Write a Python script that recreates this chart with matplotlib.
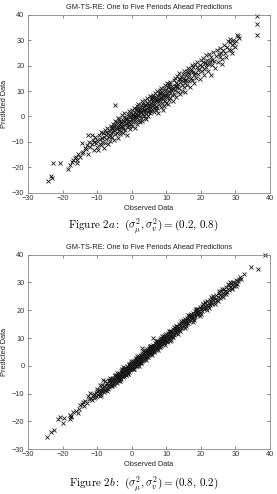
import numpy as np
import matplotlib
matplotlib.use('Agg')
import matplotlib.pyplot as plt

plt.rcParams['font.family'] = ['Liberation Sans', 'DejaVu Sans']
plt.rcParams['mathtext.fontset'] = 'cm'

# Figure 2a: (0.2, 0.8) - observed vs predicted
obs_a = [-24.1, -23.4, -23.0, -22.7, -20.6, -18.3, -17.9, -17.4, -17.0, -16.5, -16.1, -15.9, -15.8, -15.5, -15.0,
         -14.5, -14.5, -14.0, -13.6, -13.2, -12.9, -12.6, -12.6, -12.3, -12.0, -11.6, -11.5, -11.2, -11.0,
         -10.8, -10.5, -10.2, -10.0, -9.9, -9.7, -9.5, -9.3, -9.2, -9.0, -8.8, -8.6, -8.5, -8.3, -8.1, -8.0,
         -7.8, -7.7, -7.5, -7.3, -7.2, -7.0, -6.9, -6.7, -6.5, -6.4, -6.2, -6.0, -6.0,
         -5.8, -5.7, -5.5, -5.4, -5.3, -5.2, -5.0, -4.9, -4.8, -4.8, -4.6, -4.5, -4.4, -4.2, -4.1, -4.0,
         -3.9, -3.8, -3.6, -3.5, -3.4, -3.3, -3.1, -3.0, -2.9, -2.8, -2.6, -2.5, -2.4, -2.3, -2.1, -2.0,
         -1.9, -1.8, -1.6, -1.5, -1.4, -1.3, -1.1, -1.0, -0.9, -0.8, -0.6, -0.5, -0.4, -0.3, -0.1, 0.0,
         -3.7, -2.2, -1.2, -0.2, -4.3, -5.1,
         0.1, 0.2, 0.3, 0.4, 0.5, 0.6, 0.7, 0.8, 0.9, 1.0, 1.1, 1.2, 1.3, 1.4, 1.5, 1.6, 1.7, 1.8, 1.9, 2.0,
         2.1, 2.2, 2.3, 2.4, 2.5, 2.6, 2.7, 2.8, 2.9, 3.0, 3.1, 3.2, 3.3, 3.4, 3.5, 3.6, 3.7, 3.8, 3.9, 4.0,
         4.1, 4.2, 4.3, 4.4, 4.5, 4.6, 4.7, 4.8, 4.9, 5.0, 5.1, 5.2, 5.3, 5.4, 5.5, 5.6, 5.7, 5.8, 5.9, 6.0,
         6.1, 6.2, 6.3, 6.4, 6.5, 6.6, 6.7, 6.8, 6.9, 7.0, 7.1, 7.2, 7.3, 7.4, 7.5, 7.6, 7.7, 7.8, 7.9, 8.0,
         8.1, 8.2, 8.3, 8.4, 8.5, 8.6, 8.7, 8.8, 8.9, 9.0, 9.1, 9.2, 9.3, 9.4, 9.5, 9.6, 9.7, 9.8, 9.9, 10.0,
         10.1, 10.2, 10.3, 10.4, 10.5, 10.6, 10.7, 10.8, 10.9, 11.0, 11.1, 11.2, 11.3, 11.5, 11.7, 11.9,
         12.0, 12.1, 12.3, 12.4, 12.5, 12.6, 12.8, 12.9, 13.0, 13.2, 13.3, 13.4, 13.6, 13.7, 13.8, 14.0,
         14.1, 14.3, 14.4, 14.5, 14.7, 14.8, 15.0, 15.1, 15.2, 15.4, 15.5, 15.7, 15.8, 16.0, 16.1, 16.3,
         16.4, 16.6, 16.7, 16.9, 17.0, 17.2, 17.3, 17.5, 17.6, 17.8, 17.9, 18.0,
         18.2, 18.4, 18.6, 18.8, 19.0, 19.2, 19.4, 19.6, 19.8, 20.0, 20.2, 20.4, 20.6, 20.8, 21.0, 21.2,
         21.4, 21.6, 21.8, 22.0, 22.2, 22.4, 22.6, 22.8, 23.0, 23.2, 23.5, 23.8, 24.0, 24.3, 24.6, 24.9,
         25.2, 25.5,
         25.6, 25.9, 26.1, 26.4, 26.7, 27.0, 27.2, 27.5, 27.8, 28.0, 28.3, 28.4, 28.6, 28.9, 29.2, 29.5,
         29.8, 30.1, 30.3, 30.6, 31.0, 26.0, 29.0,
         36.2, 36.2, 36.2,
         -3.2, -1.7, 0.35, 1.55, 2.65, 3.75, 4.85, 5.95, 7.05, 8.15, 9.25, 10.35, 11.45, 12.7, 13.9, 15.3,
         16.2, 17.1, 19.1, 20.5, 21.7, 23.3, -7.4, -5.6, -2.7, -0.7, 1.05, 2.35, 3.45, 6.35, 8.45, 10.75]
pred_a = [-25.4, -23.5, -24.3, -18.5, -18.4, -20.7, -19.2, -17.9, -17.0, -16.2, -15.9, -17.2, -18.3, -14.8, -15.9,
          -10.6, -14.2, -13.9, -12.5, -13.0, -11.4, -14.6, -7.4, -10.2, -12.2, -7.4, -11.0, -9.1, -13.1,
          -10.0, -8.2, -10.6, -12.0, -9.3, -13.3, -7.5, -10.8, -9.0, -6.1, -11.4, -8.4, -9.9, -6.7, -12.3, -8.0,
          -5.5, -10.3, -7.2, -9.0, -4.4, -6.6, -11.0, -8.1, -5.2, -7.6, -9.6, -3.8, -6.4,
          -5.1, -8.2, -2.9, -6.0, -4.1, -9.3, -5.5, -1.6, 4.7, -7.0, -3.3, -4.6, -6.4, -2.2, -8.5, -4.0,
          -0.8, -5.4, -3.0, -7.1, -1.9, -4.3, -5.9, -2.6, 0.4, -3.7, -6.5, -1.4, -4.8, -2.0, 1.2, -3.2,
          -5.3, -0.6, -2.7, -7.2, -1.1, -4.0, 0.9, -2.1, -3.6, 2.0, -0.3, -5.1, -1.6, 1.4, -2.8, 0.2,
          -1.2, -0.1, -3.1, -0.9, -5.0, -3.3,
          -3.9, 2.6, -1.0, 1.1, -2.3, 3.4, 0.1, -4.4, 1.8, -0.7, 2.9, -1.9, 0.8, 4.1, -0.2, -3.0, 2.2, 0.5, 5.0, -1.3,
          3.1, 1.4, -2.2, 2.6, 0.2, 4.4, -0.8, 1.9, 6.0, 3.3, -1.7, 1.0, 4.8, 2.2, 0.1, 3.8, -0.5, 6.5, 2.7, 1.2,
          4.6, -1.0, 3.1, 7.1, 5.4, 1.8, 3.9, 0.3, 6.2, 2.6, 4.9, 8.0, 1.4, 3.6, 6.7, 5.1, 2.0, 4.3, 7.5, 3.0,
          5.8, 8.6, 1.9, 4.4, 7.0, 3.2, 9.4, 5.5, 2.6, 7.8, 4.1, 6.3, 10.0, 3.3, 8.2, 5.9, 1.4, 7.0, 9.1, 4.8,
          10.6, 6.4, 8.8, 3.6, 7.7, 11.3, 5.4, 9.5, 6.8, 2.5, 8.3, 11.0, 4.3, 7.4, 9.9, 6.0, 12.2, 8.5, 5.1, 10.4,
          7.6, 13.0, 9.1, 4.9, 11.6, 8.1, 10.0, 6.3, 12.7, 9.4, 7.2, 13.6, 10.8, 8.4, 11.9, 5.9,
          10.9, 14.3, 8.9, 12.0, 15.1, 10.3, 7.5, 13.2, 11.4, 16.0, 9.6, 12.8, 14.6, 11.0, 17.0, 13.5,
          8.7, 15.6, 12.3, 10.2, 16.8, 14.1, 11.6, 18.0, 15.0, 13.0, 9.5, 16.4, 14.2, 17.8, 12.5, 15.5,
          19.1, 13.8, 16.9, 11.7, 18.5, 15.1, 20.2, 14.4, 17.4, 19.5, 13.0, 16.3,
          20.6, 17.2, 15.0, 19.4, 21.5, 16.8, 18.6, 14.7, 20.4, 22.3, 17.9, 19.8, 23.0, 18.5, 16.2, 21.1,
          24.0, 19.3, 22.2, 17.8, 20.7, 24.5, 21.8, 16.4, 23.4, 20.2, 25.3, 22.0, 19.0, 23.9, 26.2, 21.6,
          24.6, 23.5,
          27.0, 25.1, 22.7, 26.1, 28.3, 25.0, 23.4, 27.2, 29.6, 26.0, 30.5, 29.4, 26.1, 28.0, 30.0, 29.0,
          27.4, 29.5, 32.0, 31.5, 31.0, 20.5, 24.8,
          39.7, 36.3, 32.2,
          -2.5, -1.0, 0.6, 2.9, 1.9, 4.6, 4.2, 6.9, 6.3, 9.3, 8.4, 11.4, 10.6, 11.8, 14.9, 14.2,
          17.4, 17.9, 18.1, 21.3, 20.6, 22.1, -6.0, -4.6, -4.0, 0.4, 0.0, 3.4, 2.6, 7.5, 7.1, 11.9]

# Figure 2b: (0.8, 0.2)
obs_b = [-24.6, -23.4, -22.4, -21.2, -20.6, -19.8, -19.5, -17.9, -17.7, -17.8, -17.6, -16.9, -16.1, -15.6,
         -15.3, -14.9, -14.5, -14.1, -13.8, -13.4, -13.0, -12.6, -12.4, -12.1, -11.8, -11.5, -11.2, -11.0,
         -10.8, -10.6, -10.4, -10.2, -10.0, -9.8, -9.6, -9.5, -9.3, -9.2, -9.0, -8.8, -8.7, -8.5, -8.3, -8.2,
         -8.0, -7.9, -7.75, -7.6, -7.4, -7.3, -7.1, -7.0, -6.8, -6.7, -6.5, -6.4, -6.2, -6.1, -5.9, -5.8,
         -5.6, -5.5, -5.3, -5.2, -5.0,
         -4.9, -4.8, -4.7, -4.6, -4.5, -4.4, -4.3, -4.2, -4.1, -4.0, -3.9, -3.8, -3.7, -3.6, -3.5, -3.4,
         -3.3, -3.2, -3.1, -3.0, -2.9, -2.8, -2.7, -2.6, -2.5, -2.4, -2.3, -2.2, -2.1, -2.0, -1.9, -1.8,
         -1.7, -1.6, -1.5, -1.4, -1.3, -1.2, -1.1, -1.0, -0.9, -0.8, -0.7, -0.6, -0.5, -0.4, -0.3, -0.2,
         -0.1, 0.0, 0.1, 0.2, 0.3, 0.4, 0.5, 0.6, 0.7, 0.8, 0.9, 1.0, -3.75, -2.65, -1.55, -0.45, 0.55,
         1.1, 1.2, 1.3, 1.4, 1.5, 1.6, 1.7, 1.8, 1.9, 2.0, 2.1, 2.2, 2.3, 2.4, 2.5, 2.6, 2.7, 2.8, 2.9, 3.0,
         3.1, 3.2, 3.3, 3.4, 3.5, 3.6, 3.7, 3.8, 3.9, 4.0, 4.1, 4.2, 4.3, 4.4, 4.5, 4.6, 4.7, 4.8, 4.9, 5.0,
         5.1, 5.2, 5.3, 5.4, 5.5, 5.6, 5.7, 5.8, 5.9, 6.0, 6.1, 6.2, 6.3, 6.4, 6.5, 6.6, 6.7, 6.8, 6.9, 7.0,
         1.25, 2.45, 3.55, 4.65, 5.75, 2.9, 6.2, 11.0,
         7.1, 7.2, 7.3, 7.4, 7.5, 7.6, 7.7, 7.8, 7.9, 8.0, 8.1, 8.2, 8.3, 8.4, 8.5, 8.6, 8.7, 8.8, 8.9, 9.0,
         9.1, 9.2, 9.3, 9.4, 9.5, 9.6, 9.7, 9.8, 9.9, 10.0, 10.2, 10.3, 10.4, 10.5, 10.6, 10.8, 10.9, 11.1,
         11.2, 11.3, 11.5, 11.6, 11.7, 11.9, 12.0, 12.1, 12.3, 12.4, 12.5, 12.7, 12.8, 12.9, 13.0,
         13.2, 13.3, 13.5, 13.6, 13.8, 13.9, 14.1, 14.2, 14.4, 14.5, 14.7, 14.8, 15.0, 15.1, 15.3, 15.4,
         15.6, 15.7, 15.9, 16.0, 16.2, 16.3, 16.5, 16.6, 16.8, 16.9, 17.1, 17.2, 17.4, 17.5, 17.7, 17.8,
         18.0, 18.1, 18.3, 18.4, 18.6, 18.7, 18.9, 19.0, 19.2, 19.3, 19.5, 19.7, 19.8, 20.0,
         20.2, 20.3, 20.5, 20.7, 20.9, 21.1, 21.3, 21.5, 21.7, 21.9, 22.1, 22.3, 22.5, 22.7, 22.9, 23.1,
         23.3, 23.5, 23.8, 24.0, 24.2, 24.5, 24.7, 24.9, 25.2, 25.4, 25.6, 25.9, 26.1, 26.3, 26.6, 26.8, 27.0,
         27.3, 27.5, 27.7, 28.0, 28.2, 28.4, 28.7, 28.9, 29.1, 29.3, 29.6, 29.8, 30.1, 30.4, 30.7, 31.0,
         31.3, 31.7, 32.4, 34.5, 36.6, 38.6,
         -8.6, -7.2, -6.3, -5.1, -4.4, -3.3, -2.4, -1.1, -0.3, 0.7, 1.6, 2.2, 3.2, 4.2, 5.2, 6.0, 6.9, 7.7,
         8.7, 9.6, 10.7, 11.4, 12.2, 13.4, 14.3, 15.5, 16.4, 17.6, 18.5, 19.6, 20.6, 21.8, 22.8, 24.1, 25.3,
         26.5, 27.8, 29.0,
         -9.9, -8.9, -6.6, -5.7, -4.8, -3.6, -2.7, -1.8, -0.7, 0.3, 1.2, 2.6, 3.7, 4.6, 5.5, 6.5, 7.4, 8.3,
         9.2, 10.1, 11.0, 12.0, 12.8, 13.9, 14.9, 15.8, 16.9, 17.9, 19.0, 20.1, 21.2, 22.4, 23.6, 24.8, 26.0,
         27.2, 28.5, 30.2]
pred_b = [-25.6, -23.7, -23.1, -19.2, -18.5, -20.6, -18.6, -19.1, -18.5, -17.6, -18.0, -16.5, -16.3, -16.9,
          -15.4, -14.2, -13.6, -13.0, -14.5, -12.6, -13.3, -10.8, -12.0, -9.9, -11.4, -12.3, -10.5, -11.6,
          -10.2, -11.3, -9.6, -10.8, -9.2, -10.5, -8.7, -9.9, -10.7, -6.9, -8.6, -9.6, -8.0, -9.2, -5.0, -8.4,
          -9.5, -7.3, -5.3, -8.6, -6.8, -7.9, -6.2, -8.3, -7.0, -5.6, -7.6, -6.3, -5.1, -7.2, -6.0, -4.7,
          -6.6, -5.4, -4.2, -6.3, -5.0,
          -3.8, -5.7, -4.5, -3.2, -5.2, -4.1, -6.0, -3.5, -4.8, -2.9, -4.2, -5.3, -3.4, -2.4, -4.6, -3.1,
          -4.0, -1.9, -3.6, -4.7, -2.5, -3.3, -1.4, -4.0, -2.2, -3.0, -1.1, -3.7, -2.0, -0.6, -2.8, -1.5,
          -3.4, -0.9, -2.3, -0.2, -1.7, -2.9, -0.6, -1.3, 0.3, -2.1, -0.9, 0.6, -1.6, -0.2, 1.0, -1.2,
          0.4, -0.7, 1.3, -0.3, 0.9, -1.0, 1.7, 0.2, -0.4, 1.5, 0.6, 2.2, -3.9, -2.6, -1.6, -0.5, 0.5,
          0.1, 1.1, 2.5, 0.7, 1.8, -0.1, 2.8, 1.3, 0.5, 2.4, 3.4, 1.6, 0.9, 3.0, 2.1, 4.0, 1.4, 3.5, 2.4, 1.7,
          4.2, 3.0, 2.0, 4.7, 3.4, 2.6, 5.0, 3.9, 2.8, 4.6, 5.7, 3.5, 4.9, 3.2, 6.0, 4.4, 5.5, 3.8, 6.3, 4.9,
          5.9, 4.1, 6.7, 5.3, 4.6, 6.4, 7.2, 5.5, 4.9, 6.8, 5.9, 7.6, 6.3, 5.4, 7.3, 8.2, 6.1, 7.0, 5.8, 7.9,
          1.9, 2.3, 3.6, 4.7, 5.7, 6.4, 9.9, 9.0,
          6.5, 8.4, 7.2, 6.3, 8.1, 9.0, 7.4, 8.3, 6.9, 8.8, 7.8, 9.5, 8.2, 7.3, 9.2, 10.0, 8.5, 7.8, 9.7, 8.8,
          10.5, 9.1, 8.2, 10.1, 9.4, 11.0, 8.8, 10.3, 9.6, 11.3, 10.0, 9.1, 11.2, 10.4, 12.0, 10.7, 9.8, 11.8,
          10.9, 12.6, 11.2, 10.3, 12.3, 11.6, 13.2, 12.0, 11.2, 13.0, 12.3, 13.8, 11.9, 13.1, 12.5,
          14.2, 12.9, 13.7, 15.0, 13.3, 14.5, 13.6, 15.4, 14.2, 13.5, 15.6, 14.6, 16.2, 14.4, 15.5, 16.8,
          15.0, 16.1, 17.3, 15.6, 16.6, 15.4, 17.5, 16.3, 17.9, 16.5, 17.4, 18.5, 16.8, 18.0, 17.2, 19.0,
          17.5, 18.6, 19.6, 17.9, 18.9, 20.1, 18.3, 19.4, 20.5, 18.8, 19.8, 21.0, 19.1, 20.3,
          21.5, 19.8, 20.9, 22.2, 20.4, 21.6, 22.8, 20.9, 22.0, 23.2, 21.4, 22.5, 23.7, 21.9, 23.0, 24.1,
          22.4, 23.6, 24.8, 23.0, 24.2, 25.4, 23.8, 24.9, 26.1, 24.4, 25.6, 26.8, 25.0, 26.3, 27.5, 25.7, 27.0,
          28.3, 26.6, 27.8, 29.1, 27.2, 28.5, 29.9, 27.9, 29.0, 30.3, 28.7, 29.7, 30.9, 29.6, 30.5, 31.4,
          32.1, 31.3, 33.0, 35.5, 34.9, 39.8,
          -6.8, -9.1, -4.3, -7.0, -2.4, -5.3, -0.5, -3.1, 1.6, -1.3, 3.6, 0.1, 5.2, 2.1, 7.2, 3.9, 8.9, 5.7,
          10.7, 7.6, 12.7, 9.4, 14.1, 11.4, 16.2, 13.6, 18.3, 15.7, 20.3, 17.8, 22.4, 20.0, 24.6, 22.4, 27.0,
          24.9, 29.5, 27.5,
          -8.4, -10.4, -5.1, -7.2, -3.3, -5.1, -1.2, -3.3, 0.8, -1.2, 2.7, 1.1, 5.2, 3.1, 7.0, 5.0, 8.9, 6.8,
          10.7, 8.6, 12.5, 10.5, 14.3, 12.4, 16.4, 14.3, 18.4, 16.4, 20.5, 18.6, 22.7, 20.9, 25.1, 23.3, 27.5,
          25.7, 30.0, 28.7]

ticks = [-30, -20, -10, 0, 10, 20, 30, 40]
title = 'GM-TS-RE: One to Five Periods Ahead Predictions'
captions = [r'$\mathrm{Figure\ 2}a\mathrm{:}\ (\sigma_\mu^2,\sigma_v^2) = (0.2,\,0.8)$',
            r'$\mathrm{Figure\ 2}b\mathrm{:}\ (\sigma_\mu^2,\sigma_v^2) = (0.8,\,0.2)$']

fig = plt.figure(figsize=(2.77, 4.94), dpi=100)
ax1 = fig.add_axes([0.101, 0.610, 0.874, 0.360])
ax2 = fig.add_axes([0.101, 0.0905, 0.874, 0.394])

for ax, xs, ys in [(ax1, obs_a, pred_a), (ax2, obs_b, pred_b)]:
    ax.plot(xs, ys, 'x', color='#151515', markersize=3.1, markeredgewidth=0.6, clip_on=False)
    ax.set_xlim(-30, 40)
    ax.set_ylim(-30, 40)
    ax.set_xticks(ticks)
    ax.set_yticks(ticks)
    ax.tick_params(direction='in', length=2, width=0.5, colors='#555555', labelcolor='#333333',
                   labelsize=5.3, top=True, right=True)
    ax.tick_params(axis='x', pad=1.5)
    ax.tick_params(axis='y', pad=2.5)
    for s in ax.spines.values():
        s.set_color('#888888')
        s.set_linewidth(0.6)
    ax.set_title(title, fontsize=5.3, color='#222222', pad=4)
    ax.set_xlabel('Observed Data', fontsize=5.3, color='#222222', labelpad=2)
    ax.set_ylabel('Predicted Data', fontsize=5.3, color='#222222', labelpad=3)

fig.text(0.518, 0.540, captions[0], fontsize=8, ha='center', va='center')
fig.text(0.518, 0.019, captions[1], fontsize=8, ha='center', va='center')

fig.savefig('out.png', dpi=100)
